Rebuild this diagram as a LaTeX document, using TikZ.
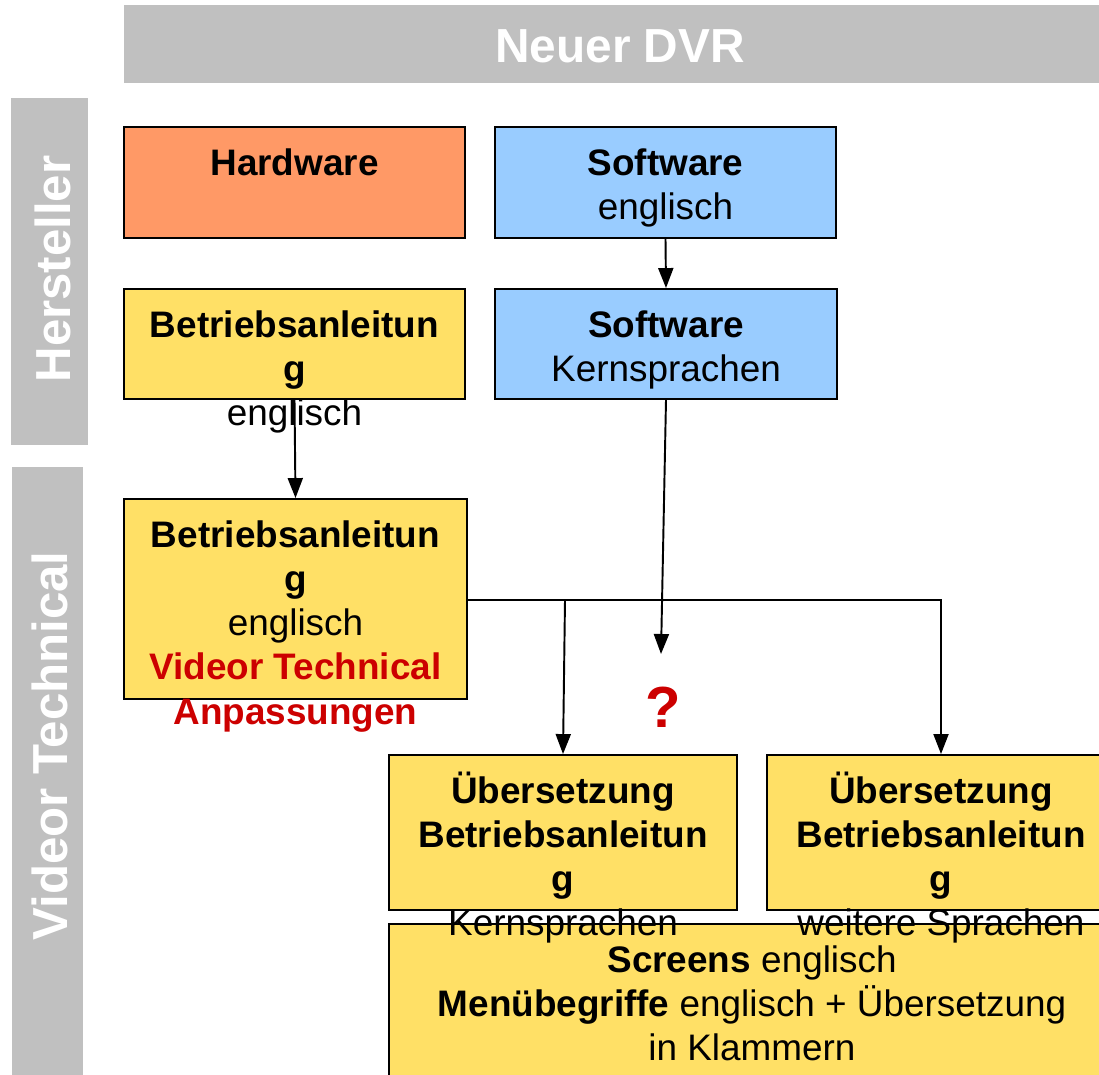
\documentclass[tikz,border=0pt]{standalone}
\usepackage{fontspec}
\setmainfont{Liberation Sans}
\usetikzlibrary{arrows.meta}
\definecolor{barg}{HTML}{C0C0C0}
\definecolor{orng}{HTML}{FF9966}
\definecolor{lblue}{HTML}{99CCFF}
\definecolor{ylw}{HTML}{FFE066}
\definecolor{vred}{HTML}{CC0000}
\newcommand{\fl}{\rule{0pt}{20pt}}
\tikzset{
  bar/.style={fill=barg, draw=none, inner sep=0, outer sep=0},
  box/.style={draw=black, line width=1.1pt, inner sep=0},
  txt/.style={font=\fontsize{21}{25.2}\selectfont, align=center, inner sep=0, anchor=north},
  head/.style={font=\fontsize{27.2}{32}\selectfont\bfseries, text=white, inner sep=0, anchor=base},
  vhead/.style={font=\fontsize{28}{32}\selectfont\bfseries, text=white, inner sep=0, anchor=base, rotate=90},
  arr/.style={line width=1.1pt, -{Triangle[length=0.4cm,width=0.3cm]}},
  conn/.style={line width=1.1pt}
}
\begin{document}
\begin{tikzpicture}[x=0.02cm,y=-0.02cm]
\useasboundingbox (0,0) rectangle (1099,1075);
\clip (0,0) rectangle (1099,1075);
% header bars
\node[bar, minimum width=19.82cm, minimum height=1.56cm] (top) at (619.5,44) {};
\node[bar, minimum width=1.54cm, minimum height=6.94cm] (hbar) at (49.5,271.5) {};
\node[bar, minimum width=1.42cm, minimum height=12.92cm] (vbar) at (47.5,790) {};
\node[head] (toptxt) at (620,62) {Neuer DVR};
\node[vhead] (htxt) at (70,269) {Hersteller};
\node[vhead] (vtxt) at (67,746) {Videor Technical};
% boxes
\node[box, fill=orng, minimum width=6.82cm, minimum height=2.22cm] (hw) at (294.5,182.5) {};
\node[box, fill=lblue, minimum width=6.82cm, minimum height=2.22cm] (sw1) at (665.5,182.5) {};
\node[box, fill=ylw, minimum width=6.82cm, minimum height=2.2cm] (b1) at (294.5,344) {};
\node[box, fill=lblue, minimum width=6.84cm, minimum height=2.2cm] (sw2) at (666,344) {};
\node[box, fill=ylw, minimum width=6.86cm, minimum height=4.0cm] (b2) at (295.5,599) {};
\node[box, fill=ylw, minimum width=6.96cm, minimum height=3.1cm] (u1) at (563,832.5) {};
\node[box, fill=ylw, minimum width=6.96cm, minimum height=3.1cm] (u2) at (941,832.5) {};
\node[box, fill=ylw, minimum width=14.52cm, minimum height=3.44cm] (bot) at (752,1010) {};
% connectors
\coordinate (qtip) at (661,654);
\coordinate (jL) at (565,600);
\coordinate (jR) at (941,600);
\draw[arr] (sw1.south) -- (sw2.north);
\draw[arr] (b1.south) -- (b2.north);
\draw[arr] (sw2.south) -- (qtip);
\draw[arr] (b2.east |- jR) -- (jR) -- (u2.north);
\draw[arr] (jL) -- (u1.north);
% texts
\node[txt] (hwt) at ([yshift=-0.27cm]hw.north) {\fl\textbf{Hardware}};
\node[txt] (sw1t) at ([yshift=-0.27cm]sw1.north) {\fl\textbf{Software}\\englisch};
\node[txt] (b1t) at ([yshift=-0.27cm]b1.north) {\fl\textbf{Betriebsanleitun}\\\textbf{g}\\englisch};
\node[txt] (sw2t) at ([yshift=-0.27cm]sw2.north) {\fl\textbf{Software}\\Kernsprachen};
\node[txt] (b2t) at ([yshift=-0.27cm]b2.north) {\fl\textbf{Betriebsanleitun}\\\textbf{g}\\englisch\\\textcolor{vred}{\textbf{Videor Technical}}\\\textcolor{vred}{\textbf{Anpassungen}}};
\node[txt] (u1t) at ([yshift=-0.27cm]u1.north) {\fl\textbf{Übersetzung}\\\textbf{Betriebsanleitun}\\\textbf{g}\\Kernsprachen};
\node[txt] (u2t) at ([yshift=-0.27cm]u2.north) {\fl\textbf{Übersetzung}\\\textbf{Betriebsanleitun}\\\textbf{g}\\weitere Sprachen};
\node[txt] (bott) at ([yshift=-0.27cm]bot.north) {\fl\textbf{Screens} englisch\\\textbf{Menübegriffe} englisch + Übersetzung\\in Klammern};
\node[font=\fontsize{33}{36}\selectfont\bfseries, text=vred, inner sep=0, anchor=base] (qm) at (663,727) {?};
\end{tikzpicture}
\end{document}
